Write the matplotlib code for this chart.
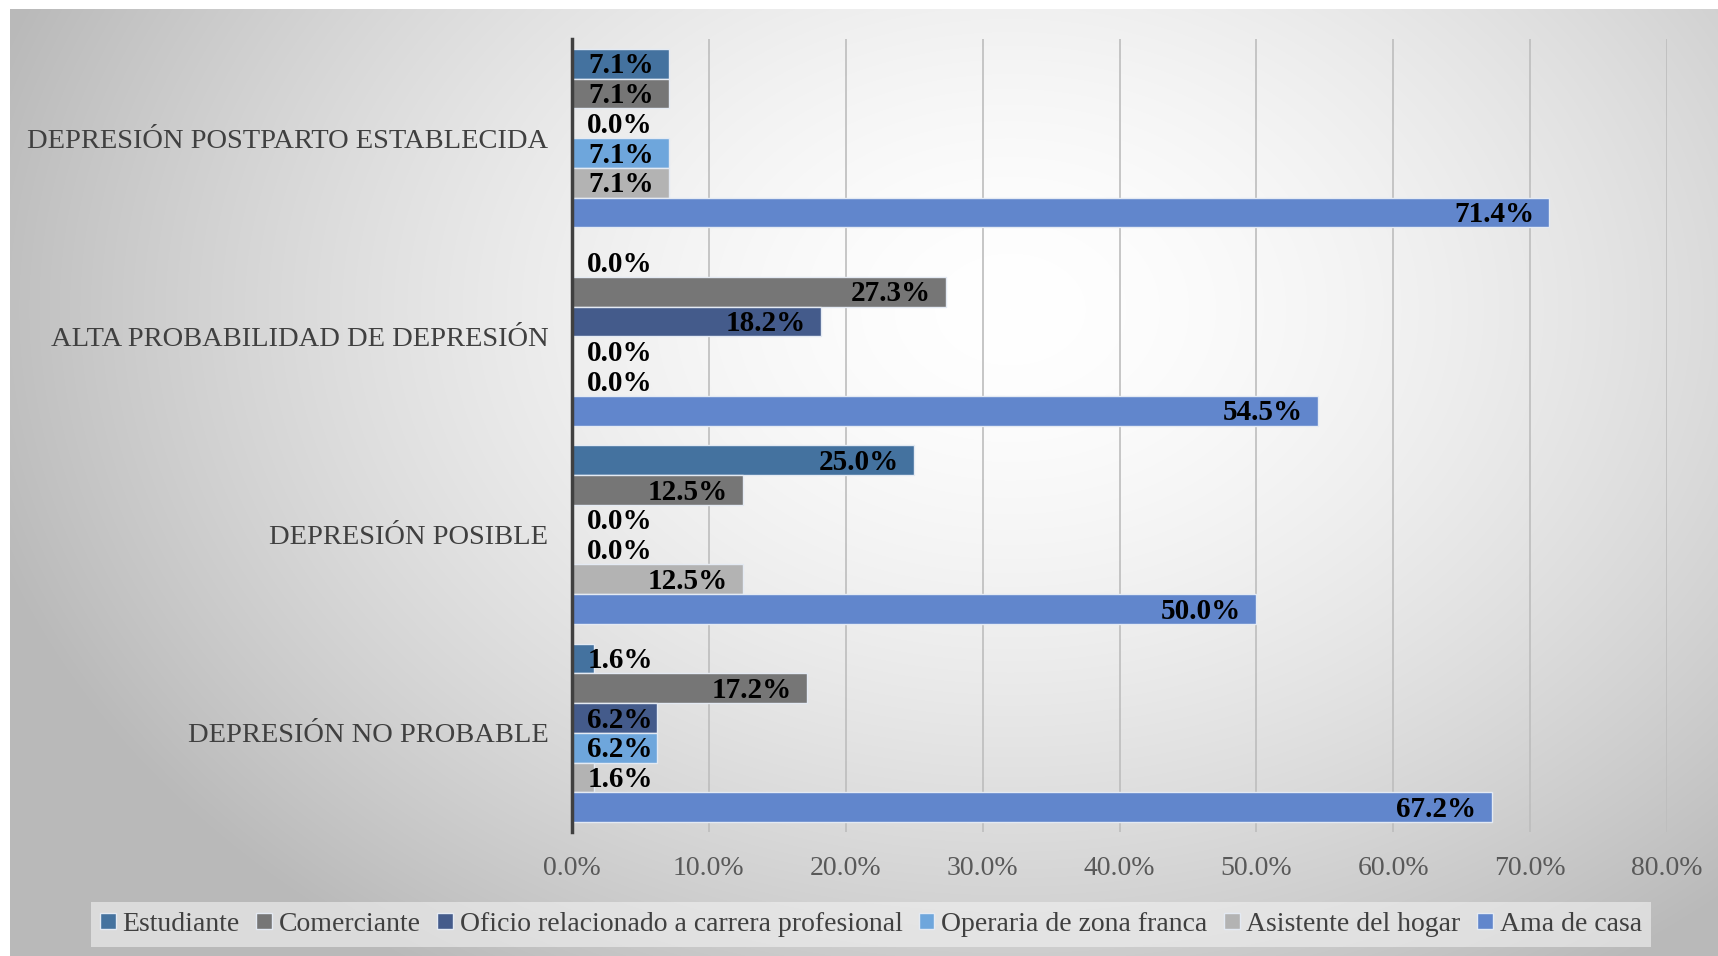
#importing library
import matplotlib.pyplot as plt
import numpy as np
from matplotlib.ticker import FuncFormatter

#data (percent)
categorias = ["DEPRESIÓN NO PROBABLE", "DEPRESIÓN POSIBLE",
              "ALTA PROBABILIDAD DE DEPRESIÓN", "DEPRESIÓN POSTPARTO ESTABLECIDA"]
series = ["Estudiante", "Comerciante", "Oficio relacionado a carrera profesional",
          "Operaria de zona franca", "Asistente del hogar", "Ama de casa"]
estudiante = [1.6, 25.0, 0.0, 7.1]
comerciante = [17.2, 12.5, 27.3, 7.1]
oficio = [6.2, 0.0, 18.2, 0.0]
operaria = [6.2, 0.0, 0.0, 7.1]
asistente = [1.6, 12.5, 0.0, 7.1]
ama_de_casa = [67.2, 50.0, 54.5, 71.4]
valores = [estudiante, comerciante, oficio, operaria, asistente, ama_de_casa]
colores = ["#44729F", "#767676", "#445B8B", "#6EA6DC", "#B3B3B3", "#6186CC"]

plt.rcParams['font.family'] = ['Liberation Serif', 'DejaVu Serif']

fig = plt.figure(figsize=(17.18, 9.56), dpi=100)

#gradient background panel
bg = fig.add_axes([10 / 1718, 0, 1 - 10 / 1718, 1 - 9 / 956])
W, H = 1708, 947
xx, yy = np.meshgrid(np.arange(W), np.arange(H))
d = np.sqrt(((xx - 1000) / 1050.0) ** 2 + ((yy - 300) / 780.0) ** 2)
v = 255 - 68 * np.clip(d, 0, 1.3) ** 1.6
v = np.clip(v, 185, 255) / 255.0
bg.imshow(np.dstack([v, v, v]), aspect='auto', interpolation='bilinear')
bg.axis('off')

ax = fig.add_axes([572 / 1718, 1 - 832 / 956, (1667 - 572) / 1718, (832 - 39) / 956])
ax.set_facecolor('none')

h = 0.15
y = np.arange(len(categorias))
for k, (nombre, vals, col) in enumerate(zip(series, valores, colores)):
    pos = y + (2.5 - k) * h
    ax.barh(pos, vals, height=h, color=col, edgecolor='#E4EAF3', linewidth=1,
            label=nombre, zorder=3)
    for p, val in zip(pos, vals):
        if val >= 7.0:
            ax.annotate(f"{val:.1f}%", (val, p), xytext=(-11, -1.5), textcoords='offset points',
                        ha='right', va='center', fontsize=21, fontweight='bold', color='black', zorder=4)
        else:
            ax.annotate(f"{val:.1f}%", (0, p), xytext=(11, -1.5), textcoords='offset points',
                        ha='left', va='center', fontsize=21, fontweight='bold', color='black', zorder=4)

ax.set_xlim(0, 80)
ax.set_ylim(-0.5, 3.5)
ax.set_xticks(np.arange(0, 81, 10))
ax.xaxis.set_major_formatter(FuncFormatter(lambda x, p: f"{x:.1f}%"))
ax.set_yticks(y)
ax.set_yticklabels(categorias)
ax.tick_params(axis='x', length=0, pad=17.5, labelsize=20, labelcolor='#595959')
ax.tick_params(axis='y', length=0, pad=17, labelsize=20.5, labelcolor='#404040')
ax.grid(axis='x', color='#BDBDBD', linewidth=1.2, zorder=0)
for s in ['top', 'right', 'bottom']:
    ax.spines[s].set_visible(False)
ax.spines['left'].set_color('#404040')
ax.spines['left'].set_linewidth(2.5)
ax.spines['left'].set_zorder(5)

leg = fig.legend(loc='center', bbox_to_anchor=(0.507, 0.033), ncol=6, fontsize=20,
                 frameon=True, facecolor='#F2F2F2', framealpha=0.6, edgecolor='none',
                 fancybox=False, handlelength=0.55, handleheight=0.55, handletextpad=0.25,
                 columnspacing=0.6, borderpad=0.35)
for t in leg.get_texts():
    t.set_color('#404040')

plt.savefig("out.png", dpi=100)
